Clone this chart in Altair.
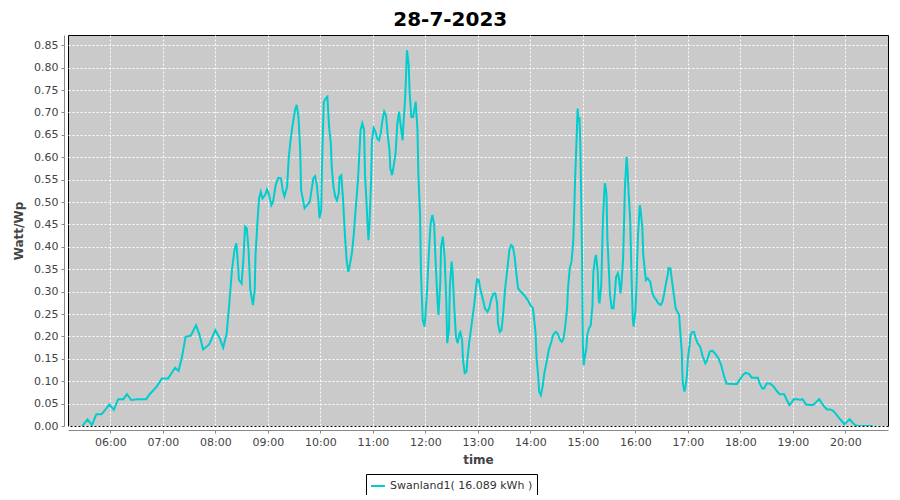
import altair as alt
import pandas as pd

day = "2023-07-28"
chart_title = "28-7-2023"
series_name = "Swanland1( 16.089 kWh )"
x_title = "time"
y_title = "Watt/Wp"

times = [
    "05:28", "05:34", "05:39", "05:44", "05:50", "05:59", "06:04", "06:09", "06:15", "06:19",
    "06:24", "06:32", "06:41", "06:45", "06:53", "06:59", "07:06", "07:14", "07:18", "07:22",
    "07:26", "07:32", "07:38", "07:42", "07:46", "07:53", "08:00", "08:05", "08:09", "08:13",
    "08:16", "08:19", "08:22", "08:24", "08:25", "08:27", "08:30", "08:32", "08:34", "08:36",
    "08:38", "08:40", "08:43", "08:45", "08:46", "08:49", "08:50", "08:52", "08:54", "08:57",
    "08:59", "09:01", "09:04", "09:06", "09:09", "09:12", "09:15", "09:17", "09:19", "09:22",
    "09:24", "09:26", "09:28", "09:31", "09:33", "09:35", "09:37", "09:38", "09:41", "09:42",
    "09:45", "09:48", "09:50", "09:52", "09:54", "09:56", "09:58", "09:59", "10:01", "10:02",
    "10:03", "10:04", "10:06", "10:08", "10:09", "10:10", "10:12", "10:13", "10:15", "10:17",
    "10:19", "10:21", "10:22", "10:24", "10:26", "10:28", "10:30", "10:32", "10:34", "10:36",
    "10:38", "10:40", "10:43", "10:45", "10:46", "10:48", "10:50", "10:51", "10:53", "10:54",
    "10:55", "10:56", "10:58", "10:59", "11:01", "11:03", "11:05", "11:07", "11:09", "11:11",
    "11:13", "11:15", "11:17", "11:19", "11:20", "11:22", "11:24", "11:26", "11:28", "11:30",
    "11:31", "11:33", "11:34", "11:35", "11:37", "11:38", "11:39", "11:41", "11:42", "11:44",
    "11:46", "11:48", "11:49", "11:51", "11:52", "11:54", "11:55", "11:57", "11:59", "12:00",
    "12:02", "12:04", "12:06", "12:08", "12:09", "12:10", "12:12", "12:14", "12:15", "12:17",
    "12:18", "12:20", "12:22", "12:24", "12:25", "12:27", "12:28", "12:30", "12:31", "12:33",
    "12:35", "12:37", "12:39", "12:40", "12:42", "12:43", "12:45", "12:47", "12:48", "12:50",
    "12:52", "12:54", "12:56", "12:58", "12:59", "13:01", "13:03", "13:06", "13:08", "13:11",
    "13:13", "13:15", "13:18", "13:20", "13:22", "13:23", "13:25", "13:27", "13:29", "13:31",
    "13:34", "13:36", "13:38", "13:40", "13:42", "13:44", "13:46", "13:49", "13:53", "13:57",
    "14:00", "14:03", "14:04", "14:06", "14:07", "14:09", "14:10", "14:12", "14:14", "14:16",
    "14:19", "14:21", "14:24", "14:26", "14:29", "14:31", "14:34", "14:36", "14:38", "14:40",
    "14:42", "14:43", "14:45", "14:47", "14:48", "14:49", "14:50", "14:51", "14:53", "14:54",
    "14:55", "14:56", "14:57", "14:58", "14:59", "15:00", "15:01", "15:02", "15:04", "15:05",
    "15:07", "15:09", "15:10", "15:11", "15:12", "15:14", "15:15", "15:17", "15:18", "15:19",
    "15:21", "15:22", "15:23", "15:25", "15:26", "15:27", "15:28", "15:30", "15:31", "15:33",
    "15:35", "15:36", "15:38", "15:40", "15:41", "15:43", "15:44", "15:46", "15:47", "15:48",
    "15:50", "15:51", "15:52", "15:54", "15:55", "15:56", "15:57", "15:58", "16:00", "16:01",
    "16:02", "16:03", "16:05", "16:06", "16:08", "16:09", "16:11", "16:12", "16:14", "16:17",
    "16:19", "16:21", "16:24", "16:26", "16:29", "16:31", "16:33", "16:35", "16:37", "16:38",
    "16:40", "16:42", "16:44", "16:46", "16:48", "16:50", "16:51", "16:53", "16:54", "16:56",
    "16:57", "16:59", "17:00", "17:02", "17:03", "17:05", "17:07", "17:09", "17:11", "17:14",
    "17:17", "17:20", "17:22", "17:25", "17:28", "17:31", "17:35", "17:38", "17:41", "17:44",
    "17:50", "17:56", "17:59", "18:03", "18:06", "18:10", "18:13", "18:17", "18:20", "18:22",
    "18:25", "18:27", "18:30", "18:34", "18:38", "18:42", "18:45", "18:50", "18:53", "18:56",
    "18:59", "19:01", "19:06", "19:08", "19:11", "19:15", "19:20", "19:23", "19:27", "19:30",
    "19:33", "19:36", "19:39", "19:43", "19:46", "19:50", "19:54", "19:59", "20:02", "20:05",
    "20:07", "20:11", "20:15", "20:31",
]

values = [
    0.000, 0.015, 0.002, 0.026, 0.026, 0.048, 0.036, 0.060, 0.060, 0.071,
    0.058, 0.060, 0.060, 0.071, 0.088, 0.106, 0.106, 0.130, 0.123, 0.155,
    0.199, 0.202, 0.225, 0.203, 0.171, 0.182, 0.214, 0.196, 0.175, 0.207,
    0.274, 0.348, 0.394, 0.408, 0.385, 0.326, 0.318, 0.370, 0.445, 0.441,
    0.393, 0.304, 0.270, 0.304, 0.385, 0.482, 0.508, 0.523, 0.508, 0.516,
    0.528, 0.519, 0.493, 0.501, 0.538, 0.554, 0.553, 0.527, 0.513, 0.534,
    0.601, 0.638, 0.668, 0.705, 0.717, 0.690, 0.616, 0.527, 0.497, 0.486,
    0.493, 0.501, 0.527, 0.553, 0.558, 0.538, 0.497, 0.464, 0.482, 0.586,
    0.661, 0.724, 0.731, 0.735, 0.702, 0.668, 0.631, 0.579, 0.534, 0.512,
    0.504, 0.519, 0.556, 0.560, 0.504, 0.430, 0.371, 0.344, 0.363, 0.385,
    0.423, 0.475, 0.549, 0.623, 0.661, 0.676, 0.661, 0.564, 0.490, 0.449,
    0.415, 0.445, 0.549, 0.638, 0.665, 0.657, 0.642, 0.638, 0.653, 0.683,
    0.702, 0.694, 0.650, 0.616, 0.575, 0.560, 0.583, 0.609, 0.676, 0.702,
    0.683, 0.653, 0.638, 0.676, 0.735, 0.787, 0.839, 0.806, 0.746, 0.690,
    0.690, 0.713, 0.724, 0.661, 0.564, 0.467, 0.341, 0.237, 0.222, 0.244,
    0.304, 0.385, 0.452, 0.471, 0.460, 0.452, 0.356, 0.274, 0.248, 0.319,
    0.400, 0.423, 0.378, 0.274, 0.185, 0.214, 0.311, 0.367, 0.348, 0.266,
    0.199, 0.185, 0.207, 0.210, 0.192, 0.147, 0.118, 0.121, 0.147, 0.185,
    0.214, 0.244, 0.274, 0.311, 0.327, 0.326, 0.304, 0.281, 0.263, 0.255,
    0.263, 0.281, 0.296, 0.296, 0.274, 0.229, 0.210, 0.214, 0.252, 0.304,
    0.356, 0.393, 0.404, 0.400, 0.378, 0.341, 0.307, 0.300, 0.292, 0.281,
    0.270, 0.263, 0.244, 0.207, 0.155, 0.110, 0.077, 0.069, 0.088, 0.118,
    0.147, 0.170, 0.188, 0.203, 0.210, 0.207, 0.192, 0.188, 0.196, 0.225,
    0.263, 0.307, 0.352, 0.367, 0.389, 0.411, 0.471, 0.545, 0.650, 0.709,
    0.679, 0.690, 0.635, 0.523, 0.389, 0.181, 0.136, 0.151, 0.173, 0.203,
    0.218, 0.225, 0.248, 0.270, 0.344, 0.374, 0.382, 0.344, 0.285, 0.274,
    0.315, 0.389, 0.464, 0.542, 0.534, 0.516, 0.419, 0.337, 0.292, 0.263,
    0.263, 0.285, 0.333, 0.341, 0.333, 0.296, 0.315, 0.374, 0.449, 0.531,
    0.601, 0.575, 0.531, 0.464, 0.382, 0.307, 0.240, 0.222, 0.255, 0.300,
    0.367, 0.426, 0.493, 0.482, 0.441, 0.382, 0.344, 0.326, 0.330, 0.322,
    0.300, 0.289, 0.281, 0.274, 0.270, 0.278, 0.296, 0.319, 0.337, 0.353,
    0.352, 0.322, 0.292, 0.263, 0.255, 0.248, 0.218, 0.166, 0.099, 0.077,
    0.084, 0.114, 0.151, 0.181, 0.203, 0.210, 0.210, 0.196, 0.185, 0.177,
    0.155, 0.140, 0.147, 0.166, 0.168, 0.162, 0.151, 0.136, 0.114, 0.095,
    0.094, 0.094, 0.103, 0.114, 0.119, 0.116, 0.108, 0.108, 0.108, 0.095,
    0.084, 0.084, 0.095, 0.095, 0.088, 0.077, 0.071, 0.071, 0.058, 0.047,
    0.054, 0.060, 0.060, 0.058, 0.060, 0.048, 0.047, 0.047, 0.054, 0.060,
    0.051, 0.043, 0.037, 0.037, 0.034, 0.025, 0.015, 0.004, 0.010, 0.015,
    0.010, 0.002, 0.000, 0.000,
]

hour_ticks = [6, 7, 8, 9, 10, 11, 12, 13, 14, 15, 16, 17, 18, 19, 20]
y_ticks = [0.00, 0.05, 0.10, 0.15, 0.20, 0.25, 0.30, 0.35, 0.40, 0.45,
           0.50, 0.55, 0.60, 0.65, 0.70, 0.75, 0.80, 0.85]

df = pd.DataFrame({
    "t": [f"{day}T{t}:00" for t in times],
    "v": values,
    "idx": list(range(len(times))),
    "series": [series_name] * len(times),
})

def dt(h, m=0, s=0):
    return alt.DateTime(year=2023, month=7, date=28, hours=h, minutes=m, seconds=s)

FONT = "DejaVu Sans"

chart = alt.Chart(df).mark_line(strokeWidth=2, clip=True).encode(
    x=alt.X(
        "t:T",
        scale=alt.Scale(domain=[dt(5, 11, 40), dt(20, 48, 40)]),
        axis=alt.Axis(
            title=x_title, values=[dt(h) for h in hour_ticks], format="%H:%M",
            offset=4, domainColor="#888888", tickColor="#888888", tickSize=3,
            labelFont=FONT, labelFontSize=11, labelColor="#444444", labelPadding=3,
            titleFont=FONT, titleFontSize=12, titleFontWeight="bold", titleColor="#444444",
            titlePadding=7,
            grid=True, gridColor="white", gridDash=[2, 2], gridWidth=1, gridOpacity=1,
        ),
    ),
    y=alt.Y(
        "v:Q",
        scale=alt.Scale(domain=[0, 0.873], nice=False, zero=True),
        axis=alt.Axis(
            title=y_title, values=y_ticks, format=".2f",
            offset=4, domainColor="#888888", tickColor="#888888", tickSize=3,
            labelFont=FONT, labelFontSize=11, labelColor="#444444", labelPadding=3,
            titleFont=FONT, titleFontSize=12, titleFontWeight="bold", titleColor="#444444",
            titlePadding=8,
            grid=True, gridColor="white", gridDash=[2, 2], gridWidth=1, gridOpacity=1,
        ),
    ),
    color=alt.Color(
        "series:N",
        scale=alt.Scale(range=["#00cdcd"]),
        legend=alt.Legend(
            title=None, orient="none", legendX=298, legendY=439,
            symbolType="stroke", symbolStrokeWidth=2, symbolSize=196,
            labelFont=FONT, labelFontSize=11, labelColor="#333333",
            strokeColor="black", fillColor="white", padding=4,
        ),
    ),
    order=alt.Order("idx:Q"),
).properties(
    width=820,
    height=391,
    background="white",
    title=alt.TitleParams(
        chart_title, font=FONT, fontSize=20, fontWeight="bold", color="black",
        anchor="middle", frame="bounds", offset=5,
    ),
    autosize=alt.AutoSizeParams(type="none"),
    padding={"left": 60, "top": 27, "right": 4, "bottom": 69},
).configure_view(
    fill="#cacaca", stroke="black", strokeWidth=1,
)

chart.save("out.html", embed_options={"renderer": "svg", "actions": False})
